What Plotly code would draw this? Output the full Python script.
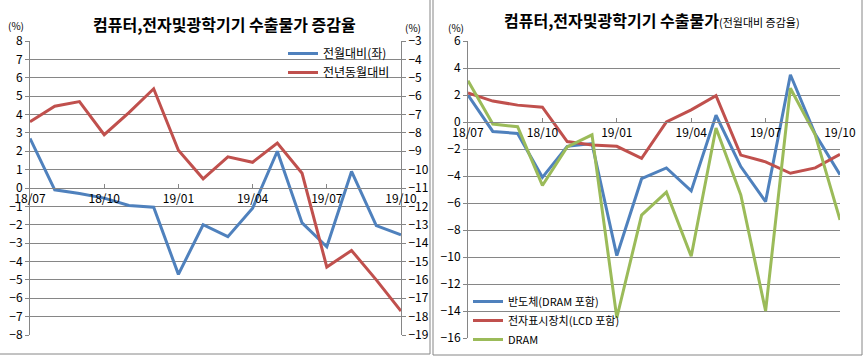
import plotly.graph_objects as go

months = ["18/07", "18/08", "18/09", "18/10", "18/11", "18/12", "19/01", "19/02",
          "19/03", "19/04", "19/05", "19/06", "19/07", "19/08", "19/09", "19/10"]
tick_months = ["18/07", "18/10", "19/01", "19/04", "19/07", "19/10"]

# Left chart
mom_total = [2.7, -0.1, -0.3, -0.55, -0.95, -1.05, -4.7, -2.0, -2.65, -1.1, 2.0, -1.9, -3.2, 0.9, -2.05, -2.55]
yoy_total = [-7.4, -6.55, -6.3, -8.1, -6.9, -5.6, -8.95, -10.5, -9.3, -9.6, -8.55, -10.2, -15.3, -14.4, -16.0, -17.7]

# Right chart
semi = [2.0, -0.7, -0.85, -4.1, -1.8, -1.6, -9.9, -4.2, -3.4, -5.1, 0.5, -3.3, -5.9, 3.5, -0.9, -3.9]
display = [2.15, 1.55, 1.25, 1.1, -1.45, -1.7, -1.8, -2.7, 0.0, 0.9, 1.95, -2.45, -2.95, -3.8, -3.4, -2.4]
dram = [3.05, -0.15, -0.35, -4.7, -1.85, -0.95, -14.5, -6.9, -5.2, -9.95, -0.45, -5.4, -14.0, 2.5, -0.95, -7.25]

W, H = 866, 356
BLUE, RED, GREEN = "#4F81BD", "#C0504D", "#9BBB59"
GRID = "#868686"
FONT = "Noto Sans CJK KR"

def px(x):
    return x / W

def py(y):
    return (H - y) / H

fig = go.Figure()
lw = 3
fig.add_trace(go.Scatter(x=months, y=mom_total, name="전월대비(좌)", mode="lines",
                         line=dict(color=BLUE, width=lw), xaxis="x", yaxis="y", legend="legend"))
fig.add_trace(go.Scatter(x=months, y=yoy_total, name="전년동월대비", mode="lines",
                         line=dict(color=RED, width=lw), xaxis="x", yaxis="y2", legend="legend"))
fig.add_trace(go.Scatter(x=months, y=semi, name="반도체(DRAM 포함)", mode="lines",
                         line=dict(color=BLUE, width=lw), xaxis="x2", yaxis="y3", legend="legend2"))
fig.add_trace(go.Scatter(x=months, y=display, name="전자표시장치(LCD 포함)", mode="lines",
                         line=dict(color=RED, width=lw), xaxis="x2", yaxis="y3", legend="legend2"))
fig.add_trace(go.Scatter(x=months, y=dram, name="DRAM", mode="lines",
                         line=dict(color=GREEN, width=lw), xaxis="x2", yaxis="y3", legend="legend2"))

tickfont = dict(family=FONT, size=12, color="#000000")

xcommon = dict(type="category", range=[0, 15], tickmode="array", tickvals=tick_months,
               ticktext=tick_months, showgrid=False, showline=True, linecolor=GRID, linewidth=1,
               ticks="inside", ticklen=4, tickcolor=GRID, tickfont=tickfont, anchor="free",
               fixedrange=True, zeroline=False, automargin=False)

ycommon = dict(showline=True, linecolor=GRID, ticks="outside", ticklen=4, tickcolor=GRID,
               tickfont=tickfont, zeroline=False, automargin=False, fixedrange=True)

left_dom = [py(335), py(41)]
right_dom = [py(338), py(41)]

fig.update_layout(
    width=W, height=H, margin=dict(l=0, r=0, t=0, b=0, pad=0), autosize=False,
    paper_bgcolor="white", plot_bgcolor="rgba(0,0,0,0)",
    font=dict(family=FONT, size=12, color="#000000"),
    xaxis=dict(xcommon, domain=[px(30), px(401)], position=py(188)),
    yaxis=dict(ycommon, domain=left_dom, range=[-8, 8], dtick=1, tick0=0, showgrid=True,
               gridcolor=GRID, gridwidth=1, anchor="x"),
    yaxis2=dict(ycommon, overlaying="y", side="right", range=[-19, -3], dtick=1, tick0=-3,
                showgrid=False, anchor="x"),
    xaxis2=dict(xcommon, domain=[px(468), px(840)], position=py(122)),
    yaxis3=dict(ycommon, domain=right_dom, range=[-16, 6], dtick=2, tick0=0, showgrid=True,
                gridcolor=GRID, gridwidth=1, anchor="x2"),
    legend=dict(x=px(283), y=py(39), xanchor="left", yanchor="top", bgcolor="rgba(0,0,0,0)",
                font=dict(family=FONT, size=12, color="#000000"), tracegroupgap=0,
                itemwidth=30),
    legend2=dict(x=px(468), y=py(287), xanchor="left", yanchor="top", bgcolor="rgba(0,0,0,0)",
                 font=dict(family=FONT, size=11, color="#000000"), tracegroupgap=0,
                 itemwidth=30),
    showlegend=True,
)

annotations = [
    dict(text="<b>컴퓨터,전자및광학기기 수출물가 증감율</b>", x=px(224), y=py(24), xref="paper",
         yref="paper", showarrow=False, font=dict(family=FONT, size=16, color="#000000"),
         xanchor="center", yanchor="middle"),
    dict(text="<b>컴퓨터,전자및광학기기 수출물가</b><span style='font-size:11px'>(전월대비 증감율)</span>",
         x=px(652), y=py(20), xref="paper", yref="paper", showarrow=False,
         font=dict(family=FONT, size=16, color="#000000"), xanchor="center", yanchor="middle"),
    dict(text="(%)", x=px(16), y=py(25), xref="paper", yref="paper", showarrow=False,
         font=dict(family=FONT, size=10, color="#000000"), xanchor="center", yanchor="middle"),
    dict(text="(%)", x=px(413), y=py(27), xref="paper", yref="paper", showarrow=False,
         font=dict(family=FONT, size=10, color="#000000"), xanchor="center", yanchor="middle"),
    dict(text="(%)", x=px(456), y=py(27), xref="paper", yref="paper", showarrow=False,
         font=dict(family=FONT, size=10, color="#000000"), xanchor="center", yanchor="middle"),
]
fig.update_layout(annotations=annotations)

border = dict(color=GRID, width=1)
shapes = [
    dict(type="line", xref="paper", yref="paper", x0=px(430), x1=px(430), y0=py(354), y1=1, line=border),
    dict(type="line", xref="paper", yref="paper", x0=0, x1=px(430), y0=py(354), y1=py(354), line=border),
    dict(type="line", xref="paper", yref="paper", x0=px(433), x1=px(433), y0=py(355), y1=1, line=border),
    dict(type="line", xref="paper", yref="paper", x0=px(862), x1=px(862), y0=py(355), y1=1, line=border),
    dict(type="line", xref="paper", yref="paper", x0=px(433), x1=px(862), y0=py(355), y1=py(355), line=border),
]
fig.update_layout(shapes=shapes)

fig.write_html("out.html", config={"displayModeBar": False},
               post_script="document.body.style.margin='0';document.body.style.overflow='hidden';")
